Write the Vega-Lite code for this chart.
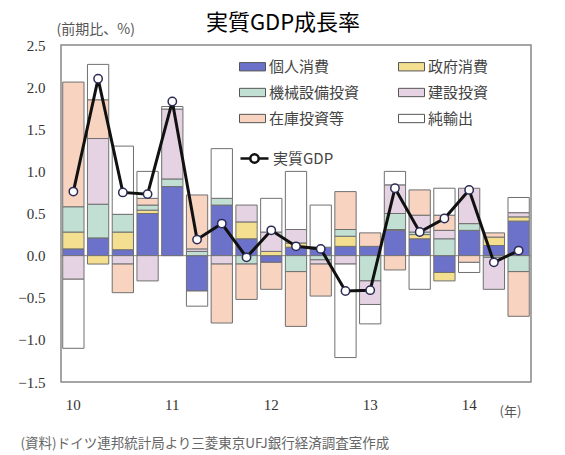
{
  "$schema": "https://vega.github.io/schema/vega-lite/v6.json",
  "autosize": {"type": "none"},
  "width": 470,
  "height": 337,
  "padding": {"left": 61, "top": 45, "right": 34, "bottom": 73},
  "background": "white",
  "title": {
    "text": "実質GDP成長率",
    "font": "Noto Sans CJK JP",
    "fontSize": 22,
    "fontWeight": "normal",
    "color": "#000000",
    "anchor": "middle",
    "dx": -13,
    "offset": -13
  },
  "datasets": {
    "bars": [
      {"q": "2010Q1", "s": "個人消費", "v": 0.08}, {"q": "2010Q1", "s": "政府消費", "v": 0.20}, {"q": "2010Q1", "s": "機械設備投資", "v": 0.30}, {"q": "2010Q1", "s": "建設投資", "v": -0.28}, {"q": "2010Q1", "s": "在庫投資等", "v": 1.48}, {"q": "2010Q1", "s": "純輸出", "v": -0.82},
      {"q": "2010Q2", "s": "個人消費", "v": 0.21}, {"q": "2010Q2", "s": "政府消費", "v": -0.10}, {"q": "2010Q2", "s": "機械設備投資", "v": 0.40}, {"q": "2010Q2", "s": "建設投資", "v": 0.78}, {"q": "2010Q2", "s": "在庫投資等", "v": 0.46}, {"q": "2010Q2", "s": "純輸出", "v": 0.42},
      {"q": "2010Q3", "s": "個人消費", "v": 0.07}, {"q": "2010Q3", "s": "政府消費", "v": 0.21}, {"q": "2010Q3", "s": "機械設備投資", "v": 0.21}, {"q": "2010Q3", "s": "建設投資", "v": -0.10}, {"q": "2010Q3", "s": "在庫投資等", "v": -0.34}, {"q": "2010Q3", "s": "純輸出", "v": 0.81},
      {"q": "2010Q4", "s": "個人消費", "v": 0.50}, {"q": "2010Q4", "s": "政府消費", "v": 0.04}, {"q": "2010Q4", "s": "機械設備投資", "v": 0.06}, {"q": "2010Q4", "s": "建設投資", "v": -0.30}, {"q": "2010Q4", "s": "在庫投資等", "v": 0.08}, {"q": "2010Q4", "s": "純輸出", "v": 0.32},
      {"q": "2011Q1", "s": "個人消費", "v": 0.82}, {"q": "2011Q1", "s": "機械設備投資", "v": 0.09}, {"q": "2011Q1", "s": "建設投資", "v": 0.83}, {"q": "2011Q1", "s": "純輸出", "v": 0.03},
      {"q": "2011Q2", "s": "個人消費", "v": -0.42}, {"q": "2011Q2", "s": "機械設備投資", "v": 0.05}, {"q": "2011Q2", "s": "建設投資", "v": 0.03}, {"q": "2011Q2", "s": "在庫投資等", "v": 0.64}, {"q": "2011Q2", "s": "純輸出", "v": -0.18},
      {"q": "2011Q3", "s": "個人消費", "v": 0.60}, {"q": "2011Q3", "s": "機械設備投資", "v": 0.08}, {"q": "2011Q3", "s": "建設投資", "v": -0.10}, {"q": "2011Q3", "s": "在庫投資等", "v": -0.70}, {"q": "2011Q3", "s": "純輸出", "v": 0.59},
      {"q": "2011Q4", "s": "個人消費", "v": 0.20}, {"q": "2011Q4", "s": "政府消費", "v": 0.20}, {"q": "2011Q4", "s": "機械設備投資", "v": -0.10}, {"q": "2011Q4", "s": "建設投資", "v": 0.20}, {"q": "2011Q4", "s": "在庫投資等", "v": -0.42},
      {"q": "2012Q1", "s": "個人消費", "v": -0.08}, {"q": "2012Q1", "s": "政府消費", "v": 0.05}, {"q": "2012Q1", "s": "建設投資", "v": 0.23}, {"q": "2012Q1", "s": "在庫投資等", "v": -0.32}, {"q": "2012Q1", "s": "純輸出", "v": 0.40},
      {"q": "2012Q2", "s": "個人消費", "v": 0.10}, {"q": "2012Q2", "s": "政府消費", "v": 0.05}, {"q": "2012Q2", "s": "機械設備投資", "v": -0.19}, {"q": "2012Q2", "s": "建設投資", "v": 0.16}, {"q": "2012Q2", "s": "在庫投資等", "v": -0.65}, {"q": "2012Q2", "s": "純輸出", "v": 0.69},
      {"q": "2012Q3", "s": "個人消費", "v": 0.10}, {"q": "2012Q3", "s": "機械設備投資", "v": -0.05}, {"q": "2012Q3", "s": "建設投資", "v": -0.05}, {"q": "2012Q3", "s": "在庫投資等", "v": -0.38}, {"q": "2012Q3", "s": "純輸出", "v": 0.50},
      {"q": "2012Q4", "s": "個人消費", "v": 0.11}, {"q": "2012Q4", "s": "政府消費", "v": 0.12}, {"q": "2012Q4", "s": "機械設備投資", "v": 0.08}, {"q": "2012Q4", "s": "建設投資", "v": -0.10}, {"q": "2012Q4", "s": "在庫投資等", "v": 0.45}, {"q": "2012Q4", "s": "純輸出", "v": -1.11},
      {"q": "2013Q1", "s": "個人消費", "v": 0.11}, {"q": "2013Q1", "s": "機械設備投資", "v": -0.30}, {"q": "2013Q1", "s": "建設投資", "v": -0.28}, {"q": "2013Q1", "s": "在庫投資等", "v": 0.16}, {"q": "2013Q1", "s": "純輸出", "v": -0.23},
      {"q": "2013Q2", "s": "個人消費", "v": 0.30}, {"q": "2013Q2", "s": "政府消費", "v": 0.01}, {"q": "2013Q2", "s": "機械設備投資", "v": 0.19}, {"q": "2013Q2", "s": "建設投資", "v": 0.34}, {"q": "2013Q2", "s": "在庫投資等", "v": -0.17}, {"q": "2013Q2", "s": "純輸出", "v": 0.16},
      {"q": "2013Q3", "s": "個人消費", "v": 0.20}, {"q": "2013Q3", "s": "政府消費", "v": 0.05}, {"q": "2013Q3", "s": "機械設備投資", "v": 0.03}, {"q": "2013Q3", "s": "建設投資", "v": 0.20}, {"q": "2013Q3", "s": "在庫投資等", "v": 0.30}, {"q": "2013Q3", "s": "純輸出", "v": -0.40},
      {"q": "2013Q4", "s": "個人消費", "v": -0.20}, {"q": "2013Q4", "s": "政府消費", "v": -0.10}, {"q": "2013Q4", "s": "機械設備投資", "v": 0.20}, {"q": "2013Q4", "s": "建設投資", "v": 0.10}, {"q": "2013Q4", "s": "在庫投資等", "v": 0.18}, {"q": "2013Q4", "s": "純輸出", "v": 0.32},
      {"q": "2014Q1", "s": "個人消費", "v": 0.30}, {"q": "2014Q1", "s": "機械設備投資", "v": 0.08}, {"q": "2014Q1", "s": "建設投資", "v": 0.42}, {"q": "2014Q1", "s": "在庫投資等", "v": -0.08}, {"q": "2014Q1", "s": "純輸出", "v": -0.12},
      {"q": "2014Q2", "s": "個人消費", "v": 0.12}, {"q": "2014Q2", "s": "政府消費", "v": 0.10}, {"q": "2014Q2", "s": "機械設備投資", "v": -0.02}, {"q": "2014Q2", "s": "建設投資", "v": -0.38}, {"q": "2014Q2", "s": "在庫投資等", "v": 0.05},
      {"q": "2014Q3", "s": "個人消費", "v": 0.41}, {"q": "2014Q3", "s": "政府消費", "v": 0.05}, {"q": "2014Q3", "s": "機械設備投資", "v": -0.19}, {"q": "2014Q3", "s": "建設投資", "v": 0.05}, {"q": "2014Q3", "s": "在庫投資等", "v": -0.53}, {"q": "2014Q3", "s": "純輸出", "v": 0.18}
    ],
    "gdp": [
      {"q": "2010Q1", "g": 0.76}, {"q": "2010Q2", "g": 2.10}, {"q": "2010Q3", "g": 0.75}, {"q": "2010Q4", "g": 0.73},
      {"q": "2011Q1", "g": 1.83}, {"q": "2011Q2", "g": 0.19}, {"q": "2011Q3", "g": 0.38}, {"q": "2011Q4", "g": -0.02},
      {"q": "2012Q1", "g": 0.30}, {"q": "2012Q2", "g": 0.11}, {"q": "2012Q3", "g": 0.08}, {"q": "2012Q4", "g": -0.42},
      {"q": "2013Q1", "g": -0.41}, {"q": "2013Q2", "g": 0.80}, {"q": "2013Q3", "g": 0.28}, {"q": "2013Q4", "g": 0.44},
      {"q": "2014Q1", "g": 0.78}, {"q": "2014Q2", "g": -0.08}, {"q": "2014Q3", "g": 0.06}
    ]
  },
  "resolve": {"axis": {"y": "independent"}},
  "layer": [
    {
      "data": {"values": [{}]},
      "mark": {"type": "rule", "color": "#8a8a8a", "strokeWidth": 1},
      "encoding": {
        "y": {"datum": 0, "type": "quantitative", "scale": {"domain": [-1.5, 2.5], "nice": false, "zero": false}, "axis": null}
      }
    },
    {
      "data": {"name": "bars"},
      "transform": [
        {"calculate": "indexof(['個人消費','政府消費','機械設備投資','建設投資','在庫投資等','純輸出'], datum.s)", "as": "k"}
      ],
      "mark": {"type": "bar", "stroke": "#707070", "strokeWidth": 1},
      "encoding": {
        "x": {
          "field": "q", "type": "ordinal",
          "scale": {"type": "band", "paddingInner": 0.14, "paddingOuter": 0.07},
          "axis": {
            "title": "(年)", "titleX": 449, "titleY": 29, "titleAlign": "center", "titleBaseline": "middle",
            "titleFont": "Noto Sans CJK JP", "titleFontSize": 13, "titleFontWeight": "normal", "titleColor": "#555555",
            "labelExpr": "slice(datum.value, 5) == '1' ? slice(datum.value, 2, 4) : ''",
            "labelAngle": 0, "labelFont": "Liberation Serif", "labelFontSize": 15, "labelColor": "#333333",
            "labelPadding": 15, "ticks": false, "tickSize": 0, "domain": false, "grid": false
          }
        },
        "y": {
          "field": "v", "type": "quantitative", "stack": "zero",
          "scale": {"domain": [-1.5, 2.5], "nice": false, "zero": false},
          "axis": {
            "orient": "left", "values": [-1.5, -1, -0.5, 0, 0.5, 1, 1.5, 2, 2.5], "format": ".1f",
            "title": "(前期比、%)", "titleAngle": 0, "titleX": -5, "titleY": -16, "titleAlign": "left", "titleBaseline": "middle",
            "titleFont": "Noto Sans CJK JP", "titleFontSize": 14, "titleFontWeight": "normal", "titleColor": "#555555",
            "labelFont": "Liberation Serif", "labelFontSize": 15, "labelColor": "#333333", "labelPadding": 16,
            "ticks": false, "tickSize": 0, "domain": false, "grid": false
          }
        },
        "fill": {
          "field": "s", "type": "nominal",
          "scale": {
            "domain": ["個人消費", "政府消費", "機械設備投資", "建設投資", "在庫投資等", "純輸出"],
            "range": ["#6c72c9", "#f3df8f", "#c2dfd3", "#e5d3e3", "#f8d3c0", "#ffffff"]
          },
          "legend": {
            "title": null, "orient": "none", "legendX": 178, "legendY": 8, "columns": 2, "direction": "horizontal", "padding": 0,
            "symbolType": "M-1,-0.32H1V0.32H-1Z", "symbolSize": 676, "symbolStrokeColor": "#555555", "symbolStrokeWidth": 1,
            "labelFont": "Noto Sans CJK JP", "labelFontSize": 15, "labelColor": "#444444", "labelOffset": 3,
            "rowPadding": 4, "columnPadding": 36
          }
        },
        "order": {"field": "k", "type": "quantitative"}
      }
    },
    {
      "data": {"name": "gdp"},
      "mark": {"type": "line", "strokeWidth": 3},
      "encoding": {
        "x": {
          "field": "q", "type": "ordinal",
          "scale": {"type": "band", "paddingInner": 0.14, "paddingOuter": 0.07},
          "axis": {
            "title": "(年)", "titleX": 449, "titleY": 29, "titleAlign": "center", "titleBaseline": "middle",
            "titleFont": "Noto Sans CJK JP", "titleFontSize": 13, "titleFontWeight": "normal", "titleColor": "#555555",
            "labelExpr": "slice(datum.value, 5) == '1' ? slice(datum.value, 2, 4) : ''",
            "labelAngle": 0, "labelFont": "Liberation Serif", "labelFontSize": 15, "labelColor": "#333333",
            "labelPadding": 15, "ticks": false, "tickSize": 0, "domain": false, "grid": false
          }
        },
        "y": {
          "field": "g", "type": "quantitative",
          "scale": {"domain": [-1.5, 2.5], "nice": false, "zero": false},
          "axis": {
            "orient": "right", "labels": false, "ticks": false, "domain": false, "grid": false,
            "title": "(資料)ドイツ連邦統計局より三菱東京UFJ銀行経済調査室作成",
            "titleAngle": 0, "titleX": -511, "titleY": 398, "titleAlign": "left", "titleBaseline": "middle",
            "titleFont": "Noto Sans CJK JP", "titleFontSize": 13.5, "titleFontWeight": "normal", "titleColor": "#666666"
          }
        },
        "stroke": {
          "datum": "実質GDP",
          "scale": {"domain": ["実質GDP"], "range": ["#111111"]},
          "legend": {
            "title": null, "orient": "none", "legendX": 178, "legendY": 98, "padding": 0,
            "symbolType": "M-1,0H-0.3M0.3,0H1M0.3,0A0.3,0.3,0,1,1,-0.3,0A0.3,0.3,0,1,1,0.3,0",
            "symbolSize": 784, "symbolStrokeWidth": 2.5, "symbolFillColor": "#ffffff",
            "labelFont": "Noto Sans CJK JP", "labelFontSize": 15, "labelColor": "#444444", "labelOffset": 3
          }
        }
      }
    },
    {
      "data": {"name": "gdp"},
      "mark": {"type": "point", "filled": true, "fill": "#ffffff", "stroke": "#2b2b55", "strokeWidth": 1.5, "size": 70, "opacity": 1},
      "encoding": {
        "x": {
          "field": "q", "type": "ordinal",
          "scale": {"type": "band", "paddingInner": 0.14, "paddingOuter": 0.07},
          "axis": {
            "title": "(年)", "titleX": 449, "titleY": 29, "titleAlign": "center", "titleBaseline": "middle",
            "titleFont": "Noto Sans CJK JP", "titleFontSize": 13, "titleFontWeight": "normal", "titleColor": "#555555",
            "labelExpr": "slice(datum.value, 5) == '1' ? slice(datum.value, 2, 4) : ''",
            "labelAngle": 0, "labelFont": "Liberation Serif", "labelFontSize": 15, "labelColor": "#333333",
            "labelPadding": 15, "ticks": false, "tickSize": 0, "domain": false, "grid": false
          }
        },
        "y": {
          "field": "g", "type": "quantitative",
          "scale": {"domain": [-1.5, 2.5], "nice": false, "zero": false},
          "axis": null
        }
      }
    }
  ],
  "config": {
    "view": {"stroke": "#888888", "strokeWidth": 1.5},
    "font": "Noto Sans CJK JP"
  }
}
